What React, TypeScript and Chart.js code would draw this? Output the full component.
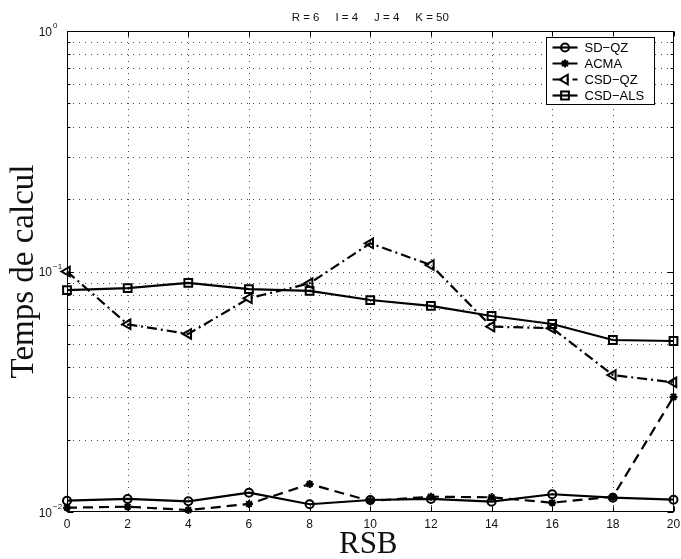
import React, { useEffect, useRef } from 'react';
import { Chart, registerables } from 'chart.js';
import { drawPoint } from 'chart.js/helpers';

Chart.register(...registerables);

// ---- data ----
const rsb = [0, 2, 4, 6, 8, 10, 12, 14, 16, 18, 20];
const sdQz = [0.01114, 0.01133, 0.01108, 0.01203, 0.01077, 0.01122, 0.01133, 0.01104, 0.01185, 0.01147, 0.01125];
const acma = [0.01042, 0.01052, 0.01019, 0.0108, 0.01307, 0.01111, 0.01158, 0.01151, 0.01093, 0.01158, 0.0301];
const csdQz = [0.1, 0.0603, 0.055, 0.0774, 0.0893, 0.131, 0.1064, 0.059, 0.0581, 0.0371, 0.0346];
const csdAls = [0.0837, 0.0853, 0.0896, 0.0845, 0.083, 0.0761, 0.0719, 0.0653, 0.0605, 0.0519, 0.0514];

const seriesNames = ['SD\u2212QZ', 'ACMA', 'CSD\u2212QZ', 'CSD\u2212ALS'];
const xTicks = [0, 2, 4, 6, 8, 10, 12, 14, 16, 18, 20];
const xTickLabels = ['0', '2', '4', '6', '8', '10', '12', '14', '16', '18', '20'];
const yDecades = [0.01, 0.1, 1];
const yExponents = ['\u22122', '\u22121', '0'];
const yMantissas = [2, 3, 4, 5, 6, 7, 8, 9];
const titleText = 'R = 6     I = 4     J = 4     K = 50';
const xTitle = 'RSB';
const yTitle = 'Temps de calcul';

const SANS = "'Liberation Sans', Arial, sans-serif";
const SERIF = "'Liberation Serif', 'Times New Roman', serif";

const toPoints = (ys: number[]) => rsb.map((x, i) => ({ x, y: ys[i] }));

const decorPlugin = {
  id: 'decor',
  beforeDatasetsDraw(chart: any) {
    const { ctx, chartArea: a, scales } = chart;
    const x = scales.x;
    const y = scales.y;
    ctx.save();
    ctx.strokeStyle = 'rgba(0,0,0,0.7)';
    ctx.lineWidth = 1;
    ctx.setLineDash([1, 5]);
    for (const t of xTicks) {
      const px = Math.round(x.getPixelForValue(t)) + 0.5;
      if (px <= a.left + 1 || px >= a.right - 1) continue;
      ctx.beginPath();
      ctx.moveTo(px, a.top);
      ctx.lineTo(px, a.bottom);
      ctx.stroke();
    }
    for (let d = 0; d < yDecades.length; d++) {
      const dec = yDecades[d];
      const vals = [dec, ...(d < yDecades.length - 1 ? yMantissas.map((m) => m * dec) : [])];
      for (const v of vals) {
        const py = Math.round(y.getPixelForValue(v)) + 0.5;
        if (py <= a.top + 1 || py >= a.bottom - 1) continue;
        ctx.beginPath();
        ctx.moveTo(a.left, py);
        ctx.lineTo(a.right, py);
        ctx.stroke();
      }
    }
    ctx.restore();
  },
  afterDatasetsDraw(chart: any) {
    const { ctx, chartArea: a, scales } = chart;
    const x = scales.x;
    const y = scales.y;
    ctx.save();
    ctx.setLineDash([]);
    ctx.strokeStyle = '#000';
    ctx.lineWidth = 1;
    const L = Math.round(a.left) + 0.5;
    const R = Math.round(a.right) - 0.5;
    const T = Math.round(a.top) + 0.5;
    const B = Math.round(a.bottom) - 0.5;
    ctx.strokeRect(L, T, R - L, B - T);

    // x ticks (inward, top and bottom)
    ctx.beginPath();
    for (const t of xTicks) {
      const px = Math.round(x.getPixelForValue(t)) + 0.5;
      ctx.moveTo(px, B);
      ctx.lineTo(px, B - 5);
      ctx.moveTo(px, T);
      ctx.lineTo(px, T + 5);
    }
    // y ticks
    for (let d = 0; d < yDecades.length; d++) {
      const dec = yDecades[d];
      const py = Math.round(y.getPixelForValue(dec)) + 0.5;
      ctx.moveTo(L, py);
      ctx.lineTo(L + 6, py);
      ctx.moveTo(R, py);
      ctx.lineTo(R - 6, py);
      if (d < yDecades.length - 1) {
        for (const m of yMantissas) {
          const pm = Math.round(y.getPixelForValue(m * dec)) + 0.5;
          ctx.moveTo(L, pm);
          ctx.lineTo(L + 3, pm);
          ctx.moveTo(R, pm);
          ctx.lineTo(R - 3, pm);
        }
      }
    }
    ctx.stroke();

    // x tick labels
    ctx.fillStyle = '#111';
    ctx.font = `12px ${SANS}`;
    ctx.textAlign = 'center';
    ctx.textBaseline = 'alphabetic';
    xTicks.forEach((t, i) => {
      ctx.fillText(xTickLabels[i], x.getPixelForValue(t), a.bottom + 16);
    });

    // y tick labels (10 with superscript exponent)
    yDecades.forEach((v, i) => {
      const py = y.getPixelForValue(v);
      ctx.font = `12px ${SANS}`;
      ctx.textAlign = 'right';
      ctx.fillText('10', a.left - 15, py + 4.5);
      ctx.font = `8px ${SANS}`;
      ctx.textAlign = 'left';
      ctx.fillText(yExponents[i], a.left - 14, py - 3);
    });

    // title
    ctx.font = `11.5px ${SANS}`;
    ctx.textAlign = 'center';
    ctx.fillText(titleText, (a.left + a.right) / 2, a.top - 10);

    // x title
    ctx.font = `31px ${SERIF}`;
    ctx.fillText(xTitle, (a.left + a.right) / 2 - 2, 553);

    // y title
    ctx.save();
    ctx.translate(33, (a.top + a.bottom) / 2);
    ctx.rotate(-Math.PI / 2);
    ctx.font = `33px ${SERIF}`;
    ctx.textAlign = 'center';
    ctx.fillText(yTitle, 0, 0);
    ctx.restore();

    // legend
    const lw = 108;
    const lh = 67;
    const lx = Math.round(a.right) - 20 - lw + 0.5;
    const ly = Math.round(a.top) + 6 + 0.5;
    ctx.fillStyle = '#fff';
    ctx.fillRect(lx, ly, lw, lh);
    ctx.strokeStyle = '#000';
    ctx.lineWidth = 1;
    ctx.strokeRect(lx, ly, lw, lh);
    chart.data.datasets.forEach((ds: any, i: number) => {
      const ry = ly + 10 + i * 16;
      ctx.save();
      ctx.strokeStyle = '#000';
      ctx.lineWidth = ds.borderWidth;
      ctx.setLineDash(ds.borderDash || []);
      ctx.beginPath();
      ctx.moveTo(lx + 6, ry);
      ctx.lineTo(lx + 31, ry);
      ctx.stroke();
      ctx.setLineDash([]);
      ctx.lineWidth = ds.pointBorderWidth;
      ctx.fillStyle = 'rgba(0,0,0,0)';
      drawPoint(ctx, {
        pointStyle: ds.pointStyle,
        rotation: ds.pointRotation || 0,
        radius: ds.pointRadius,
        borderWidth: ds.pointBorderWidth,
      } as any, lx + 18.5, ry);
      ctx.restore();
      ctx.fillStyle = '#000';
      ctx.font = `13px ${SANS}`;
      ctx.textAlign = 'left';
      ctx.textBaseline = 'middle';
      ctx.fillText(ds.label, lx + 38, ry + 0.5);
    });
    ctx.restore();
  },
};

export default function App() {
  const ref = useRef<HTMLCanvasElement | null>(null);
  useEffect(() => {
    if (!ref.current) return;
    const common = {
      borderColor: '#000',
      borderWidth: 2.2,
      pointBorderColor: '#000',
      pointBackgroundColor: 'rgba(0,0,0,0)',
      pointBorderWidth: 2,
      tension: 0,
      clip: false as any,
    };
    const chart = new Chart(ref.current, {
      type: 'line',
      data: {
        datasets: [
          { ...common, label: seriesNames[0], data: toPoints(sdQz), pointStyle: 'circle', pointRadius: 4 },
          { ...common, label: seriesNames[1], data: toPoints(acma), pointStyle: 'star', pointRadius: 4, borderDash: [10, 6] },
          { ...common, label: seriesNames[2], data: toPoints(csdQz), pointStyle: 'triangle', pointRotation: -90, pointRadius: 5.5, borderDash: [10, 4, 2, 4] },
          { ...common, label: seriesNames[3], data: toPoints(csdAls), pointStyle: 'rect', pointRadius: 5.5 },
        ] as any,
      },
      options: {
        animation: false,
        responsive: false,
        layout: { padding: { left: 67, right: 6, top: 31, bottom: 47 } },
        plugins: { legend: { display: false }, title: { display: false }, tooltip: { enabled: false } },
        scales: {
          x: { type: 'linear', min: 0, max: 20, display: false },
          y: { type: 'logarithmic', min: 0.01, max: 1, display: false },
        },
      },
      plugins: [decorPlugin],
    });
    return () => chart.destroy();
  }, []);
  return (
    <div style={{ position: 'absolute', left: 0, top: 0, width: 681, height: 559, background: '#fff' }}>
      <canvas ref={ref} width={681} height={559} style={{ display: 'block' }} />
    </div>
  );
}
